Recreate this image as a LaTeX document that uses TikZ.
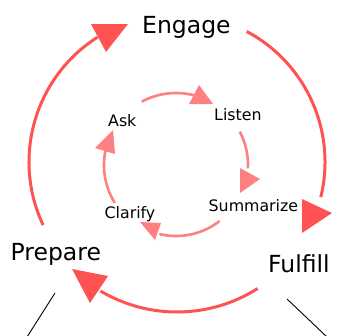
\documentclass[tikz,border=0pt]{standalone}
\usepackage{fontspec}
\setmainfont{DejaVu Sans}
\definecolor{outerred}{RGB}{255,82,82}
\definecolor{innerred}{RGB}{255,128,128}
\begin{document}
\begin{tikzpicture}[x=1pt,y=-1pt,
  outerarc/.style={draw=outerred,line width=3pt},
  innerarc/.style={draw=innerred,line width=2.6pt},
  outerhead/.style={fill=outerred},
  innerhead/.style={fill=innerred},
  biglabel/.style={inner sep=0pt,anchor=base west,font=\fontsize{23.5}{28}\selectfont},
  smalllabel/.style={inner sep=0pt,anchor=base west,font=\fontsize{15.8}{19}\selectfont},
  leg/.style={draw=black,line width=0.9pt}]
\useasboundingbox (0,0) rectangle (339,335);
% labels
\node[biglabel] (engage) at (142,33) {Engage};
\node[biglabel] (prepare) at (10.5,260) {Prepare};
\node[biglabel] (fulfill) at (268,272) {Fulfill};
\node[smalllabel] (ask) at (108,126) {Ask};
\node[smalllabel] (listen) at (214,120) {Listen};
\node[smalllabel] (summarize) at (208.5,211.7) {Summarize};
\node[smalllabel] (clarify) at (104.5,218) {Clarify};
% centres
\coordinate (O) at (177,162);
\coordinate (I) at (176,165);
% outer cycle
\draw[outerarc] ([shift={(154.8:148)}]O) arc[start angle=154.8,end angle=237.5,radius=148];
\fill[outerhead] (128,24) -- (91,24) -- (106,52) -- cycle;
\draw[outerarc] ([shift={(-61.9:148)}]O) arc[start angle=-61.9,end angle=13.7,radius=148];
\fill[outerhead] (332,213) -- (302,199) -- (302,233) -- cycle;
\draw[outerarc] ([shift={(57.5:150)}]O) arc[start angle=57.5,end angle=120.7,radius=150];
\fill[outerhead] (72,269) -- (108,276) -- (90,303) -- cycle;
% inner cycle
\draw[innerarc] ([shift={(-118.4:72)}]I) arc[start angle=-118.4,end angle=-75.7,radius=72];
\fill[innerhead] (213,104) -- (199,85) -- (189,104) -- cycle;
\draw[innerarc] ([shift={(-27.6:72)}]I) arc[start angle=-27.6,end angle=2.6,radius=72];
\fill[innerhead] (260,179) -- (240,168) -- (240,193) -- cycle;
\draw[innerarc] ([shift={(52:71)}]I) arc[start angle=52,end angle=103.6,radius=71];
\fill[innerhead] (140,222) -- (161,223) -- (155,240) -- cycle;
\draw[innerarc] ([shift={(148.3:72)}]I) arc[start angle=148.3,end angle=192,radius=72];
\fill[innerhead] (113,130) -- (95,148) -- (115,154) -- cycle;
% legs
\coordinate (pl1) at (55,293);
\coordinate (pl2) at (27,337);
\coordinate (fl1) at (287,299);
\coordinate (fl2) at (327,337);
\draw[leg] (pl1) -- (pl2);
\draw[leg] (fl1) -- (fl2);
\end{tikzpicture}
\end{document}
